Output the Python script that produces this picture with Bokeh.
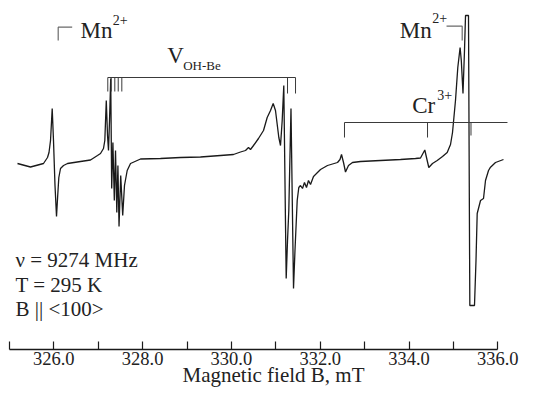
from bokeh.plotting import figure
from bokeh.models import Range1d, FixedTicker, ColumnDataSource
from bokeh.core.properties import value
from bokeh.embed import file_html
from bokeh.resources import INLINE

# ---- spectrum (magnetic field in mT, EPR derivative signal in arb. units) ----
field_mT = [325.182, 325.475, 325.768, 325.858, 325.892, 325.926, 325.964, 325.993,
            326.027, 326.061, 326.088, 326.113, 326.151, 326.219, 326.309, 326.601,
            326.827, 326.984, 327.052, 327.119, 327.149, 327.182, 327.210, 327.232,
            327.255, 327.282, 327.304, 327.331, 327.363, 327.390, 327.419, 327.444,
            327.469, 327.507, 327.552, 327.592, 327.653, 327.728, 327.953, 328.403,
            328.854, 329.304, 329.755, 330.047, 330.205, 330.318, 330.385, 330.430,
            330.498, 330.610, 330.723, 330.806, 330.881, 330.941, 330.993, 331.068,
            331.106, 331.144, 331.180, 331.234, 331.264, 331.293, 331.342, 331.399,
            331.432, 331.482, 331.518, 331.556, 331.601, 331.646, 331.691, 331.736,
            331.782, 331.849, 332.007, 332.164, 332.390, 332.446, 332.480, 332.525,
            332.570, 332.637, 332.727, 332.908, 333.358, 333.809, 334.146, 334.259,
            334.356, 334.394, 334.446, 334.529, 334.635, 334.755, 334.860, 334.935,
            334.980, 335.047, 335.099, 335.151, 335.178, 335.216, 335.250, 335.273,
            335.340, 335.370, 335.475, 335.509, 335.536, 335.611, 335.678, 335.723,
            335.791, 335.836, 335.948, 336.128]
signal = [-3, -6.5, -3, 3, 8, 20, 52, 20,
          -25, -56, -35, -17, -8, -5, -3, -1,
          0.5, 5, 7, 12, 20, 60, 25, 10,
          40, 82, -28, 18, -40, 10, -52, -5,
          -66, -15, -55, -25, -10, -3, 1.5, 2,
          3, 3.5, 5, 6, 8.5, 10, 13, 11,
          15, 22, 30, 43, 50, 57, 50, 23,
          15, 40, 75, -118, -80, -50, 52, -128,
          -90, -40, -27, -25, -28, -22, -27, -20,
          -24, -16, -9, -5, -2, 1, 6, -2,
          -11.5, -5, -2, -1, 0, 1, 2, 2.5,
          10.5, 3, -7, -3, 0, 4, 8, 16,
          28, 60, 93, 113, 100, 67, 110, 145,
          145, -145, -145, -100, -53, -40, -38, -20,
          -10, -6.7, -2, 1]

# ---- axis ----
axis_ticks = [326, 328, 330, 332, 334, 336]
axis_minor_ticks = [325, 327, 329, 331, 333, 335]
tick_labels = ["326.0", "328.0", "330.0", "332.0", "334.0", "336.0"]

# ---- line-group markers (field positions) ----
v_left_ticks = [327.216, 327.293, 327.374, 327.451, 327.532]
v_right_ticks = [331.264, 331.444]
cr_ticks = [332.547, 334.417, 335.396]
cr_bracket_end = 336.218
mn_left_marker = [326.099, 326.414]
mn_right_marker = [334.845, 335.198]

info_lines = ["\u03bd = 9274 MHz", "T = 295 K", "B || <100>"]

FONT = value("Liberation Serif")
INK = "#1a1a1a"
BRACKET = "#3a3a3a"

p = figure(width=546, height=396, output_backend="svg", toolbar_location=None,
           x_range=Range1d(324.7995, 337.0968), y_range=Range1d(-189, 160),
           min_border_left=0, min_border_right=0, min_border_top=0,
           min_border_bottom=47, y_axis_location=None,
           x_axis_label="Magnetic field B, mT")
p.outline_line_color = None
p.grid.visible = False
p.background_fill_color = "white"
p.border_fill_color = "white"

ax = p.xaxis[0]
ax.ticker = FixedTicker(ticks=axis_ticks, minor_ticks=axis_minor_ticks)
ax.major_label_overrides = {t: l for t, l in zip(axis_ticks, tick_labels)}
ax.bounds = (axis_minor_ticks[0], axis_ticks[-1])
ax.axis_line_color = INK
ax.axis_line_width = 1.3
ax.major_tick_in = 8
ax.major_tick_out = 0
ax.minor_tick_in = 8
ax.minor_tick_out = 0
ax.major_tick_line_color = INK
ax.minor_tick_line_color = INK
ax.major_tick_line_width = 1.2
ax.minor_tick_line_width = 1.2
ax.major_label_text_font = "Liberation Serif"
ax.major_label_text_font_size = "18.5px"
ax.major_label_text_color = "#222222"
ax.major_label_standoff = 2
ax.axis_label_text_font = "Liberation Serif"
ax.axis_label_text_font_size = "21px"
ax.axis_label_text_font_style = "normal"
ax.axis_label_text_color = "#222222"
ax.axis_label_standoff = -5

# spectrum
p.line(field_mT, signal, line_color=INK, line_width=1.3)

# V_OH-Be bracket
v_top, v_left_bottom, v_right_bottom = 83, 69, 67
p.segment(x0=[v_left_ticks[0]], y0=[v_top], x1=[v_right_ticks[-1]], y1=[v_top],
          line_color=BRACKET, line_width=1)
p.segment(x0=v_left_ticks, y0=[v_top] * len(v_left_ticks), x1=v_left_ticks,
          y1=[v_left_bottom] * len(v_left_ticks), line_color=BRACKET, line_width=1)
p.segment(x0=v_right_ticks, y0=[v_top] * 2, x1=v_right_ticks,
          y1=[v_right_bottom] * 2, line_color=BRACKET, line_width=1)

# Cr3+ bracket
cr_top = 38
p.segment(x0=[cr_ticks[0]], y0=[cr_top], x1=[cr_bracket_end], y1=[cr_top],
          line_color=BRACKET, line_width=1)
p.segment(x0=cr_ticks, y0=[cr_top] * 3, x1=cr_ticks, y1=[23, 23, 25],
          line_color=BRACKET, line_width=1)

# Mn2+ markers
p.line([mn_left_marker[0], mn_left_marker[0], mn_left_marker[1]], [120, 133.3, 133.3],
       line_color="#6a6a6a", line_width=1.2)
p.line([mn_right_marker[0], mn_right_marker[1], mn_right_marker[1]], [134.3, 134.3, 120],
       line_color="#6a6a6a", line_width=1.2)

# labels
big = ColumnDataSource(dict(x=[326.601, 328.554, 334.072, 333.793],
                            y=[129.7, 104.7, 54.7, 129.7],
                            t=["Mn", "V", "Cr", "Mn"]))
p.text(x="x", y="y", text="t", source=big, text_font=FONT, text_font_size="23px",
       text_color="#222222", text_baseline="alphabetic", text_align="left")
sup = ColumnDataSource(dict(x=[327.329, 334.635, 334.523],
                            y=[140.2, 65.8, 142.5],
                            t=["2+", "3+", "2+"]))
p.text(x="x", y="y", text="t", source=sup, text_font=FONT, text_font_size="14px",
       text_color="#222222", text_baseline="alphabetic", text_align="left")
p.text(x=[328.914], y=[95.3], text=["OH-Be"], text_font=FONT, text_font_size="13px",
       text_color="#222222", text_baseline="alphabetic", text_align="left")

info = ColumnDataSource(dict(x=[325.137] * 3, y=[-99.2, -124.2, -148], t=info_lines))
p.text(x="x", y="y", text="t", source=info, text_font=FONT, text_font_size="21px",
       text_color="#222222", text_baseline="alphabetic", text_align="left")

open("out.html", "w").write(file_html(p, INLINE))
